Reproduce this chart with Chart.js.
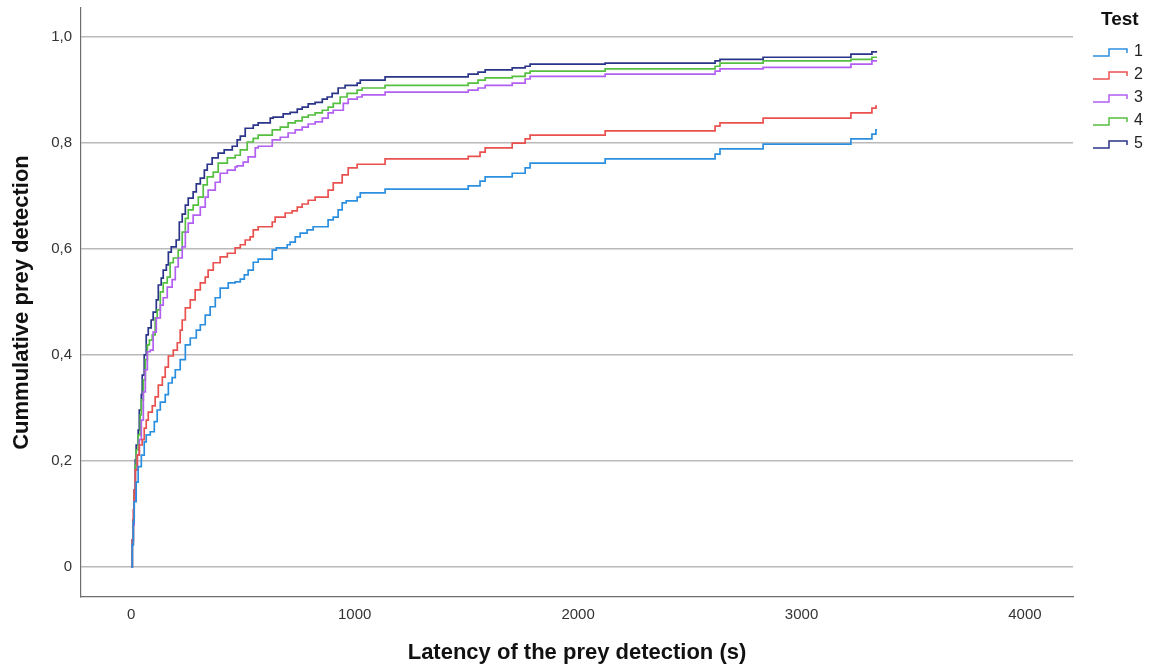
<!DOCTYPE html>
<html>
<head>
<meta charset="utf-8">
<title>Cumulative prey detection</title>
<script src="https://cdn.jsdelivr.net/npm/chart.js@4.4.1/dist/chart.umd.min.js"></script>
<style>
  html, body { margin: 0; padding: 0; background: #fff; }
  canvas { display: block; }
</style>
</head>
<body>
<canvas id="myChart" width="1151" height="669"></canvas>
<script>
// Data: waktu (s) saat tiap langkah dimulai, dan nilai kumulatifnya
const seriesLabels = ["1", "2", "3", "4", "5"];
const seriesColors = ["#2b8fe0", "#e9514f", "#b35ff2", "#55c040", "#2a3589"];

const test1Time = [0, 4.5, 9, 13, 22, 31, 45, 58, 67, 85, 103, 116, 130, 152, 166, 183, 197, 219, 242, 264, 291, 309, 331, 353, 376, 398, 434, 465, 488, 506, 523, 546, 568, 631, 649, 698, 711, 734, 756, 787, 814, 881, 904, 926, 944, 962, 1011, 1025, 1136, 1508, 1561, 1584, 1705, 1763, 1785, 2121, 2613, 2635, 2828, 3221, 3315, 3333, 3338];
const test1Value = [0, 0.042, 0.085, 0.123, 0.160, 0.189, 0.211, 0.236, 0.249, 0.255, 0.274, 0.296, 0.311, 0.325, 0.347, 0.357, 0.372, 0.391, 0.419, 0.432, 0.447, 0.457, 0.475, 0.491, 0.508, 0.526, 0.536, 0.538, 0.543, 0.551, 0.560, 0.575, 0.581, 0.598, 0.602, 0.608, 0.613, 0.623, 0.630, 0.636, 0.642, 0.655, 0.660, 0.674, 0.687, 0.691, 0.698, 0.706, 0.713, 0.719, 0.728, 0.736, 0.743, 0.753, 0.762, 0.770, 0.779, 0.789, 0.798, 0.808, 0.817, 0.825, 0.825];

const test2Time = [0, 4.5, 9, 13, 18, 27, 36, 49, 58, 67, 76, 94, 107, 121, 139, 152, 166, 188, 206, 219, 228, 242, 264, 286, 309, 331, 344, 367, 398, 430, 465, 488, 510, 532, 546, 568, 631, 644, 689, 720, 743, 765, 792, 823, 881, 904, 944, 971, 1011, 1136, 1508, 1561, 1584, 1705, 1763, 1785, 2121, 2613, 2635, 2828, 3221, 3315, 3333, 3338];
const test2Value = [0, 0.051, 0.108, 0.145, 0.183, 0.211, 0.230, 0.240, 0.262, 0.277, 0.292, 0.304, 0.321, 0.343, 0.358, 0.377, 0.398, 0.409, 0.423, 0.447, 0.466, 0.489, 0.504, 0.523, 0.536, 0.547, 0.560, 0.574, 0.585, 0.592, 0.602, 0.608, 0.617, 0.623, 0.636, 0.642, 0.651, 0.660, 0.668, 0.672, 0.679, 0.685, 0.692, 0.698, 0.711, 0.725, 0.740, 0.753, 0.760, 0.770, 0.775, 0.783, 0.791, 0.800, 0.808, 0.815, 0.823, 0.832, 0.838, 0.847, 0.857, 0.866, 0.870, 0.870];

const test3Time = [0, 4.5, 9, 13, 18, 27, 36, 45, 54, 63, 72, 85, 98, 112, 130, 143, 161, 183, 197, 210, 228, 242, 255, 277, 309, 331, 344, 376, 398, 430, 465, 474, 501, 523, 555, 568, 631, 667, 702, 734, 765, 792, 823, 855, 881, 904, 949, 971, 1011, 1033, 1136, 1508, 1552, 1584, 1705, 1763, 1785, 2121, 2613, 2635, 2828, 3221, 3315, 3338];
const test3Value = [0, 0.042, 0.079, 0.126, 0.183, 0.211, 0.240, 0.277, 0.330, 0.372, 0.406, 0.409, 0.443, 0.470, 0.494, 0.508, 0.528, 0.542, 0.566, 0.583, 0.604, 0.632, 0.649, 0.664, 0.679, 0.698, 0.711, 0.726, 0.743, 0.749, 0.755, 0.757, 0.764, 0.774, 0.791, 0.794, 0.806, 0.811, 0.819, 0.825, 0.830, 0.836, 0.840, 0.847, 0.857, 0.862, 0.875, 0.883, 0.887, 0.891, 0.896, 0.900, 0.904, 0.909, 0.913, 0.921, 0.926, 0.930, 0.936, 0.940, 0.943, 0.949, 0.955, 0.955];

const test4Time = [0, 4.5, 9, 13, 18, 22, 31, 40, 45, 54, 63, 72, 81, 94, 107, 116, 130, 143, 161, 174, 188, 210, 228, 242, 255, 277, 300, 322, 340, 367, 389, 430, 465, 488, 519, 546, 568, 631, 667, 702, 734, 765, 792, 823, 855, 881, 904, 935, 966, 1011, 1033, 1136, 1508, 1552, 1584, 1705, 1763, 1785, 2121, 2613, 2635, 2828, 3221, 3315, 3338];
const test4Value = [0, 0.042, 0.079, 0.136, 0.192, 0.221, 0.249, 0.287, 0.315, 0.353, 0.391, 0.419, 0.428, 0.438, 0.470, 0.485, 0.519, 0.536, 0.547, 0.574, 0.583, 0.598, 0.632, 0.658, 0.674, 0.683, 0.698, 0.721, 0.736, 0.745, 0.762, 0.772, 0.777, 0.787, 0.802, 0.809, 0.815, 0.825, 0.830, 0.838, 0.842, 0.849, 0.853, 0.857, 0.862, 0.868, 0.875, 0.887, 0.894, 0.900, 0.904, 0.909, 0.913, 0.919, 0.923, 0.926, 0.932, 0.936, 0.940, 0.945, 0.951, 0.955, 0.958, 0.962, 0.962];

const test5Time = [0, 4.5, 9, 13, 18, 22, 31, 36, 45, 49, 58, 67, 76, 89, 98, 112, 121, 134, 143, 157, 166, 179, 201, 215, 228, 242, 255, 277, 291, 309, 327, 340, 362, 389, 416, 452, 474, 488, 510, 546, 568, 622, 635, 680, 711, 743, 765, 792, 823, 855, 877, 899, 926, 957, 1011, 1025, 1136, 1508, 1552, 1584, 1705, 1763, 1785, 2121, 2613, 2635, 2828, 3221, 3315, 3338];
const test5Value = [0, 0.051, 0.089, 0.145, 0.202, 0.230, 0.258, 0.296, 0.325, 0.362, 0.400, 0.438, 0.451, 0.466, 0.481, 0.504, 0.532, 0.545, 0.560, 0.570, 0.594, 0.604, 0.617, 0.651, 0.666, 0.683, 0.696, 0.708, 0.723, 0.734, 0.749, 0.760, 0.772, 0.781, 0.787, 0.794, 0.806, 0.813, 0.828, 0.834, 0.838, 0.847, 0.849, 0.855, 0.858, 0.864, 0.868, 0.874, 0.877, 0.883, 0.887, 0.894, 0.904, 0.909, 0.913, 0.919, 0.925, 0.930, 0.934, 0.938, 0.942, 0.945, 0.949, 0.951, 0.955, 0.958, 0.962, 0.968, 0.972, 0.972];

const xTicks = [0, 1000, 2000, 3000, 4000];
const yTicks = [0, 0.2, 0.4, 0.6, 0.8, 1.0];

const seriesTimes = [test1Time, test2Time, test3Time, test4Time, test5Time];
const seriesValues = [test1Value, test2Value, test3Value, test4Value, test5Value];

const fontFamily = "'Liberation Sans', Arial, sans-serif";

document.addEventListener("DOMContentLoaded", renderChart);

/**
 * Gabungkan array waktu dan nilai menjadi titik {x, y}
 */
function toPoints(times, values) {
  return times.map((t, i) => ({ x: t, y: values[i] }));
}

/**
 * Format label sumbu Y dengan koma desimal
 */
function formatDecimal(value) {
  if (value === 0) return "0";
  return value.toFixed(1).replace(".", ",");
}

/**
 * Plugin legenda sendiri, dengan simbol garis bertangga
 */
const stepLegend = {
  id: "stepLegend",
  afterDraw(chart) {
    const ctx = chart.ctx;
    ctx.save();
    ctx.fillStyle = "#111";
    ctx.font = `bold 19px ${fontFamily}`;
    ctx.textBaseline = "middle";
    ctx.textAlign = "left";
    ctx.fillText("Test", 1101, 20);

    ctx.font = `16px ${fontFamily}`;
    chart.data.datasets.forEach((ds, i) => {
      const y = 52 + i * 23;
      ctx.strokeStyle = ds.borderColor;
      ctx.lineWidth = 1.5;
      ctx.beginPath();
      ctx.moveTo(1093, y + 4);
      ctx.lineTo(1109, y + 4);
      ctx.lineTo(1109, y - 3);
      ctx.lineTo(1127, y - 3);
      ctx.lineTo(1127, y + 1);
      ctx.stroke();
      ctx.fillStyle = "#222";
      ctx.fillText(ds.label, 1134, y);
    });
    ctx.restore();
  },
};

/**
 * Render chart kumulatif bertangga
 */
function renderChart() {
  const ctx = document.getElementById("myChart").getContext("2d");

  const datasets = seriesLabels.map((label, i) => ({
    label: label,
    data: toPoints(seriesTimes[i], seriesValues[i]),
    borderColor: seriesColors[i],
    backgroundColor: seriesColors[i],
    borderWidth: 1.7,
    stepped: "before",
    pointRadius: 0,
    fill: false,
  }));

  new Chart(ctx, {
    type: "line",
    data: { datasets: datasets },
    plugins: [stepLegend],
    options: {
      responsive: false,
      animation: false,
      layout: { padding: { top: 8, right: 78, left: 0, bottom: 0 } },
      plugins: {
        legend: { display: false },
        tooltip: { enabled: false },
      },
      scales: {
        x: {
          type: "linear",
          min: -225,
          max: 4215,
          afterBuildTicks: (scale) => {
            scale.ticks = xTicks.map((v) => ({ value: v }));
          },
          afterFit: (scale) => {
            scale.height = 72;
            scale.paddingLeft = 0;
            scale.paddingRight = 0;
          },
          grid: { display: true, drawOnChartArea: false, drawTicks: false },
          border: { display: true, color: "#6e6e6e", width: 1.2 },
          ticks: {
            padding: 9,
            color: "#333",
            font: { family: fontFamily, size: 15 },
            callback: (v) => String(v),
          },
          title: {
            display: true,
            text: "Latency of the prey detection (s)",
            color: "#111",
            font: { family: fontFamily, size: 22, weight: "bold" },
            padding: { top: 0, bottom: 3 },
          },
        },
        y: {
          min: -0.057,
          max: 1.055,
          afterBuildTicks: (scale) => {
            scale.ticks = yTicks.map((v) => ({ value: v }));
          },
          afterFit: (scale) => {
            scale.width = 81;
            scale.paddingTop = 0;
            scale.paddingBottom = 0;
          },
          grid: { color: "#b9b9b9", lineWidth: 1.5, drawTicks: false },
          border: { display: true, color: "#6e6e6e", width: 1.2 },
          ticks: {
            padding: 9,
            color: "#333",
            font: { family: fontFamily, size: 15 },
            callback: (v) => formatDecimal(v),
          },
          title: {
            display: true,
            text: "Cummulative prey detection",
            color: "#111",
            font: { family: fontFamily, size: 22, weight: "bold" },
            padding: { top: 9, bottom: 0 },
          },
        },
      },
    },
  });
}
</script>
</body>
</html>
